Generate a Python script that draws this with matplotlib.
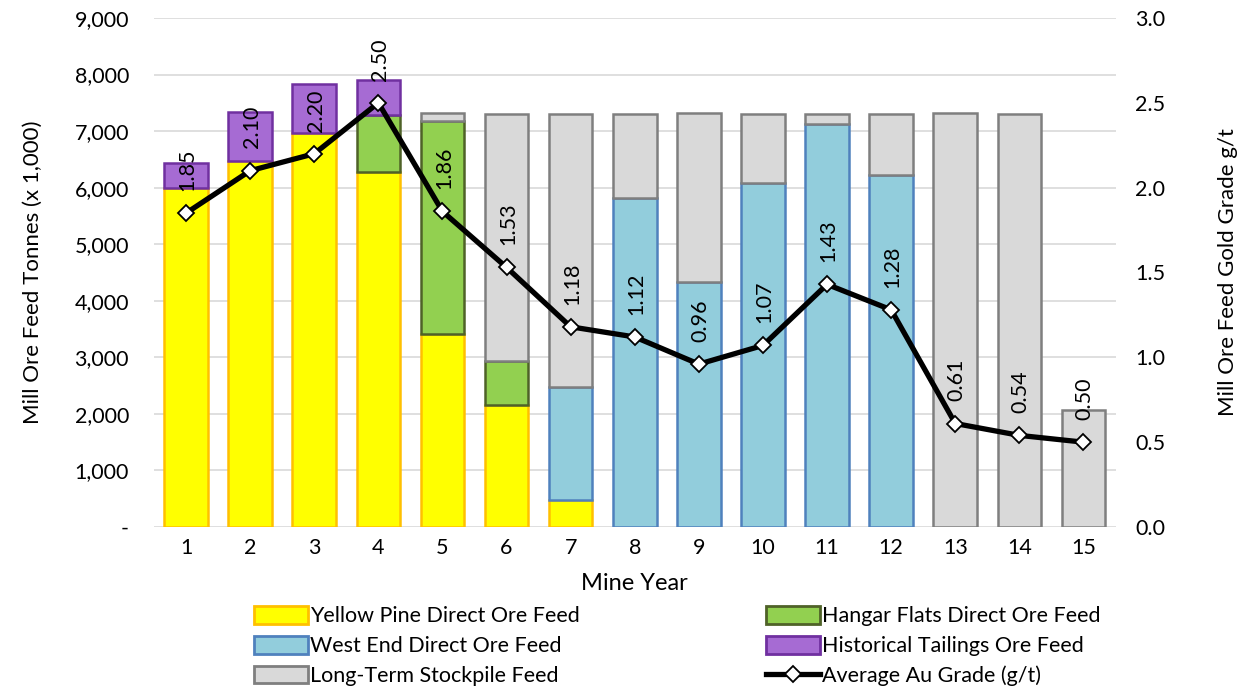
import matplotlib
matplotlib.use("Agg")
import matplotlib.pyplot as plt
import numpy as np
from matplotlib.ticker import FuncFormatter, MultipleLocator
from matplotlib.lines import Line2D
from matplotlib.patches import Patch

plt.rcParams['font.family'] = ['Lato', 'DejaVu Sans']

years = [str(i) for i in range(1, 16)]
yellow_pine = [5990, 6470, 6960, 6270, 3420, 2150, 480, 0, 0, 0, 0, 0, 0, 0, 0]
hangar_flats = [0, 0, 0, 1010, 3760, 790, 0, 0, 0, 0, 0, 0, 0, 0, 0]
west_end = [0, 0, 0, 0, 0, 0, 2000, 5820, 4325, 6075, 7120, 6225, 0, 0, 0]
historical = [450, 860, 870, 620, 0, 0, 0, 0, 0, 0, 0, 0, 0, 0, 0]
stockpile = [0, 0, 0, 0, 145, 4360, 4820, 1480, 2995, 1225, 180, 1075, 7315, 7300, 2070]
grade = [1.85, 2.10, 2.20, 2.50, 1.86, 1.53, 1.18, 1.12, 0.96, 1.07, 1.43, 1.28, 0.61, 0.54, 0.50]

series = [
    ("Yellow Pine Direct Ore Feed", yellow_pine, "#FFFF00", "#FFC000"),
    ("Hangar Flats Direct Ore Feed", hangar_flats, "#92D050", "#4F6228"),
    ("West End Direct Ore Feed", west_end, "#92CDDC", "#4F81BD"),
    ("Historical Tailings Ore Feed", historical, "#A66BD3", "#7030A0"),
    ("Long-Term Stockpile Feed", stockpile, "#D9D9D9", "#7F7F7F"),
]

FS = 15.5

fig = plt.figure(figsize=(12.45, 6.87), dpi=100)
ax = fig.add_axes([0.1237, 0.2329, 0.7723, 0.7409])
x = np.arange(1, 16)
bottom = np.zeros(15)
handles = {}
for name, vals, fc, ec in series:
    v = np.array(vals, dtype=float)
    mask = v > 0
    ax.bar(x[mask], v[mask], bottom=bottom[mask], width=0.68, color=fc,
           edgecolor=ec, linewidth=1.8, zorder=2)
    handles[name] = Patch(facecolor=fc, edgecolor=ec, linewidth=2)
    bottom += v

ax.set_xlim(0.5, 15.5)
ax.set_ylim(0, 9000)
ax.yaxis.set_major_locator(MultipleLocator(1000))
ax.yaxis.set_major_formatter(FuncFormatter(lambda v, p: "-" if v == 0 else f"{int(v):,}"))
ax.set_xticks(x)
ax.set_xticklabels(years)
ax.grid(axis='y', color='#D9D9D9', linewidth=1.2, zorder=0)
ax.set_axisbelow(True)
for s in ax.spines.values():
    s.set_visible(False)
ax.tick_params(axis='x', length=0, labelsize=FS, colors='black', pad=8)
ax.tick_params(axis='y', length=0, labelsize=FS, colors='black', pad=18)
ax.set_xlabel("Mine Year", fontsize=17, labelpad=11)
ax.set_ylabel("Mill Ore Feed Tonnes (x 1,000)", fontsize=16, labelpad=23)

ax2 = ax.twinx()
ax2.set_ylim(0, 3.0)
ax2.yaxis.set_major_locator(MultipleLocator(0.5))
ax2.yaxis.set_major_formatter(FuncFormatter(lambda v, p: f"{v:.1f}"))
for s in ax2.spines.values():
    s.set_visible(False)
ax2.tick_params(axis='y', length=0, labelsize=FS, pad=14)
ax2.set_ylabel("Mill Ore Feed Gold Grade g/t", fontsize=16, labelpad=38)
ax2.plot(x, grade, color='black', linewidth=3.8, marker='D', markersize=8.5,
         markerfacecolor='white', markeredgecolor='black', markeredgewidth=1.3, zorder=5)
for xi, g in zip(x, grade):
    ax2.annotate(f"{g:.2f}", (xi, g), xytext=(1, 16), textcoords='offset points',
                 rotation=90, ha='center', va='bottom', fontsize=FS,
                 annotation_clip=False, zorder=6)

line_handle = Line2D([0], [0], color='black', linewidth=3.8, marker='D', markersize=8.5,
                     markerfacecolor='white', markeredgecolor='black', markeredgewidth=1.3)
order = ["Yellow Pine Direct Ore Feed", "West End Direct Ore Feed", "Long-Term Stockpile Feed",
         "Hangar Flats Direct Ore Feed", "Historical Tailings Ore Feed"]
hs = [handles[n] for n in order] + [line_handle]
ls = order + ["Average Au Grade (g/t)"]
fig.legend(hs, ls, loc='lower center', bbox_to_anchor=(0.544, -0.027), ncol=2,
           frameon=False, fontsize=FS, columnspacing=8.67, handlelength=2.5,
           handletextpad=0.1, labelspacing=0.44, handleheight=0.9)

fig.savefig("out.png", dpi=100)
